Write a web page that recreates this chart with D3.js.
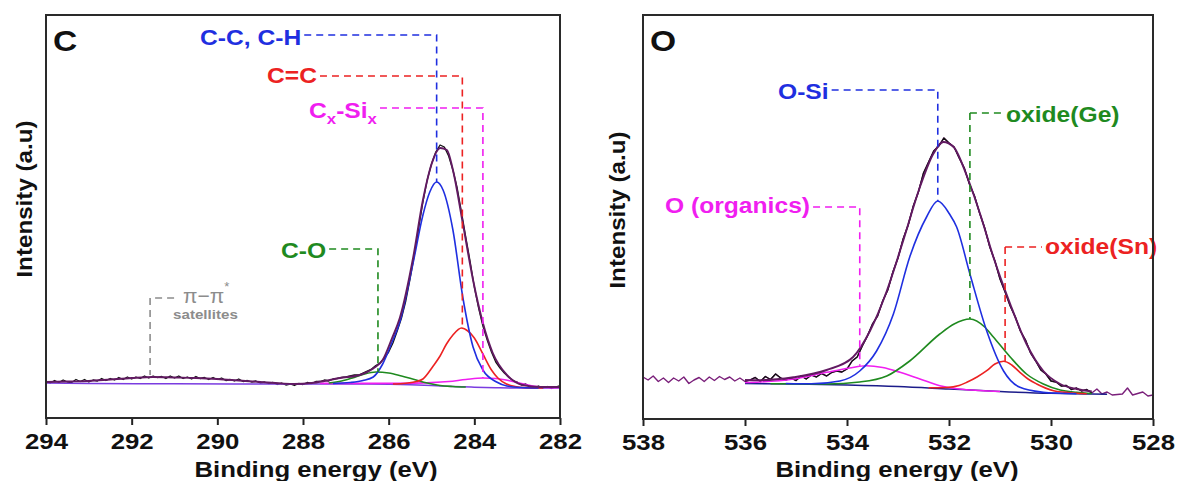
<!DOCTYPE html>
<html>
<head>
<meta charset="utf-8">
<script src="https://cdn.jsdelivr.net/npm/d3@7"></script>
<style>
  html, body { margin: 0; padding: 0; background: #fff; }
  svg { display: block; font-family: 'Liberation Sans', Arial, sans-serif; }
</style>
</head>
<body>
<div id="diagram"></div>
<script>
// ---------- C 1s panel ----------
const cTicks = [294, 292, 290, 288, 286, 284, 282];
const cLabels = ['C-C, C-H', 'C=C', 'Cx-Six', 'C-O'];
const cPeakEV = [284.88, 284.28, 283.8, 286.25];
const cSatLabel = ['\u03c0\u2212\u03c0', '*', 'satellites'];
const cSatEV = 291.57;

const cRaw = [
  [294.0,36.5],[293.9,35],[293.8,37.5],[293.7,35.5],[293.6,38],[293.5,36],[293.4,35.5],[293.3,38.5],[293.2,36.5],[293.1,38.5],
  [293.0,36],[292.9,38],[292.8,37],[292.7,39.5],[292.6,37.5],[292.5,39.5],[292.4,38],[292.3,40.5],[292.2,38.5],[292.1,41],
  [292.0,39],[291.9,41],[291.8,39.5],[291.7,42],[291.6,40],[291.5,42],[291.4,40.5],[291.3,41.5],[291.2,39.5],[291.1,42],
  [291.0,40],[290.9,42],[290.8,39.5],[290.7,41],[290.6,39],[290.5,41.5],[290.4,39.5],[290.3,40.5],[290.2,38.5],[290.1,40.5],
  [290.0,38.5],[289.9,40],[289.8,37.5],[289.7,38.5],[289.6,37],[289.5,39],[289.4,36.5],[289.3,37.5],[289.2,36],[289.1,37],
  [289.0,35],[288.9,36],[288.8,34.5],[288.7,35.5],[288.6,33.5],[288.5,35],[288.4,33],[288.3,34],[288.2,32.5],[288.1,34.5],
  [288.0,33.5],[287.9,35.5],[287.8,34.5],[287.7,36.5],[287.6,36.5],[287.5,38],[287.4,37],[287.3,39],[287.2,39.5],[287.1,40.5],
  [287.0,41],[286.9,42],[286.8,43],[286.7,43],[286.6,45],[286.5,47],[286.4,49],[286.3,52.5],[286.2,55],[286.1,60],
  [286.0,66],[285.9,75],[285.8,87],[285.7,100],[285.6,117],[285.5,139],[285.4,163],[285.3,190],[285.2,216],[285.1,238],
  [285.0,254],[284.9,266],[284.8,273],[284.7,271],[284.6,262],[284.5,248],[284.4,230],[284.3,206],[284.2,181],[284.1,157],
  [284.0,131],[283.9,110],[283.8,92],[283.7,78],[283.6,66],[283.5,56],[283.4,50],[283.3,45],[283.2,41],[283.1,37.5],
  [283.0,36],[282.9,33],[282.8,34],[282.7,31],[282.6,30.5],[282.5,32],[282.4,30],[282.3,31.5],[282.2,29.5],[282.1,31],
  [282.0,32.5]
];
const cEnvelope = [
  [294,36],[293.5,36.5],[293,37],[292.5,38.5],[292,40],[291.5,41],[291,40.5],[290.5,40],[290,39],[289.5,37.5],
  [289,36],[288.5,34.5],[288.2,34],[287.8,35],[287.5,37],[287.14,40],[286.67,43],[286.36,49.5],[286.14,58],[285.92,80],
  [285.74,100],[285.43,160],[285.2,218],[284.99,255],[284.8,270],[284.64,268],[284.5,248],[284.27,195],[284.03,138],[283.8,95],
  [283.57,65],[283.24,43],[282.87,33],[282.47,31],[282,31]
];
const cBackground = [
  [294,35],[293,34.5],[291,34.2],[288,34],[286.5,34],[286,33.8],[285.5,33.3],[285,32.5],[284.5,31.5],[284,30.8],
  [283.5,30.3],[283,30],[282,30]
];
const cCC = [
  [287.3,34.5],[286.9,35.5],[286.6,37.5],[286.36,41],[286.14,54],[285.92,76],[285.74,96],[285.43,155],[285.2,203],[285.04,226],
  [284.88,236],[284.73,228],[284.5,188],[284.27,121],[284.03,71],[283.8,48],[283.48,36],[283.24,32],[282.9,30.5],[282.5,30]
];
const cCdC = [
  [285.9,34],[285.6,34.8],[285.35,36.5],[285.2,39],[284.96,52],[284.8,62],[284.65,74],[284.5,83],[284.3,90],[284.15,87],
  [284.0,80],[283.8,64],[283.6,48],[283.45,40],[283.25,34],[283.05,31.5],[282.78,30.3],[282.4,30]
];
const cCSi = [
  [287.6,34.6],[286.5,34.6],[285.6,34.8],[285.0,35.4],[284.6,36.5],[284.2,38.5],[283.8,40],[283.5,39.5],[283.2,37.5],[282.9,34.5],
  [282.6,31.8],[282.3,30.6],[282,30.2]
];
const cCO = [
  [287.4,35],[287.1,37],[286.85,40],[286.6,43.5],[286.3,46],[286.0,45],[285.7,42],[285.4,38.5],[285.1,35],[284.8,32.5],
  [284.5,31.5],[284.2,31]
];

// ---------- O 1s panel ----------
const oTicks = [538, 536, 534, 532, 530, 528];
const oLabels = ['O-Si', 'oxide(Ge)', 'O (organics)', 'oxide(Sn)'];
const oPeakEV = [532.22, 531.59, 533.75, 530.9];

const oRaw = [
  [538.0,42],[537.9,39],[537.8,43],[537.7,37.5],[537.6,41],[537.5,36.5],[537.4,41],[537.3,38],[537.2,42],[537.1,35.5],
  [537.0,39],[536.9,41.5],[536.8,37.5],[536.7,42],[536.6,38.5],[536.5,42.5],[536.4,39.5],[536.3,42],[536.2,38],[536.1,41],
  [536.0,37.5],[535.9,39],[535.8,41.5],[535.7,37.5],[535.6,42.5],[535.5,39.5],[535.4,45],[535.3,41],[535.2,39],[535.1,41],
  [535.0,38.5],[534.9,43],[534.8,40],[534.7,44],[534.6,42],[534.5,45.5],[534.4,43],[534.3,46.5],[534.2,48],[534.1,47],
  [534.0,50],[533.9,58],[533.8,62],[533.7,73],[533.6,83],[533.5,95],[533.4,103],[533.3,118],[533.2,129],[533.1,147],
  [533.0,161],[532.9,180],[532.8,194],[532.7,213],[532.6,227],[532.5,246],[532.4,257],[532.3,268],[532.2,273],[532.1,281],
  [532.0,276],[531.9,272],[531.8,261],[531.7,251],[531.6,235],[531.5,223],[531.4,206],[531.3,191],[531.2,172],[531.1,158],
  [531.0,140],[530.9,127],[530.8,113],[530.7,102],[530.6,88],[530.5,79],[530.4,66],[530.3,58],[530.2,49],[530.1,45],
  [530.0,38],[529.9,37],[529.8,33],[529.7,33.5],[529.6,29.5],[529.5,31],[529.4,28],[529.3,29.5],[529.2,26],[529.1,30],
  [529.0,25],[528.9,27],[528.8,24],[528.7,24.5],[528.6,25],[528.5,31],[528.4,24],[528.3,25.5],[528.2,27],[528.1,23],
  [528.0,24]
];
const oFitRange = [536.0, 529.2];
const oEnvelope = [
  [536,39],[535.71,38.8],[535.05,41.7],[534.4,49],[533.88,62],[533.55,88],[533.22,128],[532.9,178],[532.57,232],[532.31,265],
  [532.11,277],[531.91,272],[531.65,243],[531.39,205],[531.13,162],[530.8,115],[530.48,75],[530.15,48],[529.82,35],[529.5,30],
  [529.2,27.5]
];
const oBackground = [
  [536,35.5],[535,35],[534,34],[533,32.5],[532,30],[531,27.5],[530,25.7],[529.2,25],[528.9,24.8]
];
const oOSi = [
  [535.2,35.5],[534.7,35.2],[534.14,38],[533.75,48],[533.42,68],[533.09,105],[532.77,162],[532.44,202],[532.22,218],[531.99,205],
  [531.85,192],[531.59,145],[531.26,88],[530.93,48],[530.61,31.7],[530.15,26.7],[529.82,25.7],[529.5,25.2]
];
const oGe = [
  [535.5,35.3],[534.4,35],[533.75,37],[533.22,43],[532.77,58],[532.18,85],[531.9,95],[531.59,100],[531.3,92],[531.13,82],
  [530.8,62],[530.48,45],[530.15,35],[529.82,29],[529.5,26.7],[529.2,25.5]
];
const oSn = [
  [532.4,31.2],[532.05,31.5],[531.8,33.5],[531.65,36.7],[531.45,42],[531.26,48.3],[531.1,55],[530.93,57.7],[530.77,54],[530.61,46.7],
  [530.45,40],[530.28,35],[529.95,28.3],[529.63,26.3],[529.3,25.3]
];
const oOrg = [
  [536,36.5],[535.71,37],[535.05,40],[534.4,46.7],[533.95,51],[533.62,53.3],[533.3,51.5],[532.96,46.7],[532.57,40],[532.18,33.3],
  [531.79,30],[531.4,28.5],[531,27.5]
];

!(function () {
  'use strict';
  // - - - - - - - - - -
  // declaration
  let
    svg = undefined,
    sx = 1.12,
    colors = undefined,
    addText = undefined,
    setPanel = undefined,
    drawCurve = undefined,
    drawLeader = undefined;

  colors = {
    blue: '#1f2fe0',
    red: '#ec2222',
    magenta: '#f01ef0',
    green: '#1f8a1f',
    envelope: '#621a62',
    raw: '#111111',
    gray: '#8c8c8c'
  };

  // methods
  addText = function (g, x, y, str, size, color, anchor, weight) {
    return g.append('text')
      .attr('transform', 'translate(' + x + ',' + y + ') scale(' + sx + ',1)')
      .attr('font-size', size)
      .attr('font-weight', weight || 'bold')
      .attr('fill', color)
      .attr('text-anchor', anchor || 'start')
      .text(str);
  };

  setPanel = function (p) {
    let g = svg.append('g'),
      xScale = d3.scaleLinear().domain(p.domain).range([p.left, p.right]),
      yScale = d3.scaleLinear().domain([0, p.bottom - p.top]).range([p.bottom, p.top]),
      clipId = 'clip-' + p.id;

    g.append('clipPath').attr('id', clipId)
      .append('rect')
      .attr('x', p.left).attr('y', p.top)
      .attr('width', p.right - p.left).attr('height', p.bottom - p.top);

    p.xScale = xScale;
    p.yScale = yScale;
    p.g = g;
    p.plot = g.append('g').attr('clip-path', 'url(#' + clipId + ')');

    // bottom axis, ticks pointing out
    let axis = g.append('g')
      .attr('transform', 'translate(0,' + p.bottom + ')')
      .call(d3.axisBottom(xScale).tickValues(p.ticks).tickSize(7).tickPadding(8).tickFormat(d3.format('d')));
    axis.select('.domain').remove();
    axis.selectAll('.tick line').attr('stroke', '#222').attr('stroke-width', 2);
    axis.selectAll('.tick text')
      .attr('font-size', 23)
      .attr('font-weight', 'bold')
      .attr('fill', '#111')
      .attr('font-family', "'Liberation Sans', Arial, sans-serif")
      .attr('transform', 'scale(' + sx + ',1)');

    addText(g, p.titleX, 477, 'Binding energy (eV)', 23, '#111', 'middle');

    g.append('text')
      .attr('transform', 'translate(' + p.ylabX + ',' + p.ylabY + ') rotate(-90) scale(1.1,1)')
      .attr('font-size', 22)
      .attr('font-weight', 'bold')
      .attr('fill', '#111')
      .attr('text-anchor', 'middle')
      .text('Intensity (a.u)');

    addText(g, p.left + 7, p.top + 36, p.name, 30, '#111', 'start');
  };

  drawCurve = function (p, data, color, width, curve) {
    p.plot.append('path')
      .datum(data)
      .attr('fill', 'none')
      .attr('stroke', color)
      .attr('stroke-width', width)
      .attr('stroke-linejoin', 'round')
      .attr('d', d3.line()
        .x(function (d) { return p.xScale(d[0]); })
        .y(function (d) { return p.yScale(d[1]); })
        .curve(curve || d3.curveMonotoneX));
  };

  // leader: vertical dashed line from peak up to label row, then horizontal to label
  drawLeader = function (p, ev, yEnd, lab, color) {
    let px = p.xScale(ev),
      t = undefined,
      w = 0,
      x1 = 0,
      x2 = 0;

    if (lab.sub) {
      t = p.g.append('text')
        .attr('transform', 'translate(' + lab.tx + ',' + lab.ty + ') scale(' + sx + ',1)')
        .attr('font-size', 22).attr('font-weight', 'bold').attr('fill', color);
      t.append('tspan').text(lab.text[0]);
      t.append('tspan').attr('font-size', 15).attr('dy', 6).text(lab.text[1]);
      t.append('tspan').attr('dy', -6).text(lab.text.slice(2, 5));
      t.append('tspan').attr('font-size', 15).attr('dy', 6).text(lab.text[5]);
    } else {
      t = addText(p.g, lab.tx, lab.ty, lab.text, 22, color, 'start');
    }
    w = t.node().getComputedTextLength() * sx;

    if (lab.side === 'right') {
      x1 = px; x2 = lab.tx - 3;
    } else {
      x1 = lab.tx + w + 3; x2 = px;
    }
    p.g.append('path')
      .attr('fill', 'none')
      .attr('stroke', color)
      .attr('stroke-width', 1.6)
      .attr('stroke-dasharray', '7,5')
      .attr('d', 'M' + x1 + ',' + lab.ly + 'H' + x2 + (lab.side === 'right' ? 'M' + px + ',' + lab.ly : '') + 'V' + yEnd);
  };

  // control
  svg = d3.select('#diagram')
    .append('svg')
    .attr('width', 1177)
    .attr('height', 481);

  // ---- C panel
  let pc = {
    id: 'c', name: 'C', domain: [294, 282], ticks: cTicks,
    left: 46, right: 560, top: 15, bottom: 418,
    titleX: 316, ylabX: 32, ylabY: 199
  };
  setPanel(pc);
  drawCurve(pc, cRaw, colors.raw, 1.3, d3.curveLinear);
  drawCurve(pc, cBackground, '#7a3ce0', 1.5);
  drawCurve(pc, cCSi, colors.magenta, 1.6);
  drawCurve(pc, cCO, colors.green, 1.6);
  drawCurve(pc, cCdC, colors.red, 1.6);
  drawCurve(pc, cCC, colors.blue, 1.6);
  drawCurve(pc, cEnvelope, colors.envelope, 1.9);

  let cComps = [cCC, cCdC, cCSi, cCO],
    cColors = [colors.blue, colors.red, colors.magenta, colors.green],
    cLay = [
      { tx: 200, ty: 45, ly: 35 },
      { tx: 267, ty: 83, ly: 76 },
      { tx: 309, ty: 118, ly: 108, sub: true },
      { tx: 281, ty: 258, ly: 249 }
    ];
  cLabels.forEach(function (lbl, i) {
    let top = d3.max(cComps[i], function (d) { return d[1]; });
    cLay[i].text = lbl;
    drawLeader(pc, cPeakEV[i], pc.yScale(top), cLay[i], cColors[i]);
  });

  // pi-pi* satellites
  let satX = pc.xScale(cSatEV),
    satNear = d3.least(cEnvelope, function (d) { return Math.abs(d[0] - cSatEV); }),
    satT = undefined;
  pc.g.append('path')
    .attr('fill', 'none')
    .attr('stroke', colors.gray)
    .attr('stroke-width', 1.6)
    .attr('stroke-dasharray', '7,5')
    .attr('d', 'M' + (satX + 24) + ',298H' + satX + 'V' + (pc.yScale(satNear[1]) - 2));
  satT = pc.g.append('text')
    .attr('transform', 'translate(' + (satX + 33) + ',303)')
    .attr('font-size', 21)
    .attr('fill', colors.gray);
  satT.append('tspan').text(cSatLabel[0]);
  satT.append('tspan').attr('font-size', 13).attr('dy', -12).text(cSatLabel[1]);
  addText(pc.g, satX + 23, 319, cSatLabel[2], 13.5, colors.gray, 'start');

  // ---- O panel
  let po = {
    id: 'o', name: 'O', domain: [538, 528], ticks: oTicks,
    left: 643, right: 1153, top: 15, bottom: 419,
    titleX: 897, ylabX: 625, ylabY: 210
  };
  setPanel(po);
  drawCurve(po, oRaw, '#7a1f7a', 1.4, d3.curveLinear);
  drawCurve(po, oRaw.filter(function (d) { return d[0] <= oFitRange[0] && d[0] >= oFitRange[1]; }), colors.raw, 1.3, d3.curveLinear);
  drawCurve(po, oBackground, '#1c1c8a', 1.5);
  drawCurve(po, oOrg, colors.magenta, 1.6);
  drawCurve(po, oGe, colors.green, 1.6);
  drawCurve(po, oSn, colors.red, 1.6);
  drawCurve(po, oOSi, colors.blue, 1.6);
  drawCurve(po, oEnvelope, colors.envelope, 1.9);

  let oComps = [oOSi, oGe, oOrg, oSn],
    oColors = [colors.blue, colors.green, colors.magenta, colors.red],
    oLay = [
      { tx: 778, ty: 99, ly: 90 },
      { tx: 1006, ty: 122, ly: 113, side: 'right' },
      { tx: 665, ty: 213, ly: 207 },
      { tx: 1045, ty: 254, ly: 247, side: 'right' }
    ];
  oLabels.forEach(function (lbl, i) {
    let top = d3.max(oComps[i], function (d) { return d[1]; });
    oLay[i].text = lbl;
    drawLeader(po, oPeakEV[i], po.yScale(top), oLay[i], oColors[i]);
  });

  // frames on top
  [pc, po].forEach(function (p) {
    p.g.append('rect')
      .attr('x', p.left).attr('y', p.top)
      .attr('width', p.right - p.left).attr('height', p.bottom - p.top)
      .attr('fill', 'none')
      .attr('stroke', '#2a2a2a')
      .attr('stroke-width', 2);
  });
  // - - - - - - - - - -
}());
</script>
</body>
</html>
